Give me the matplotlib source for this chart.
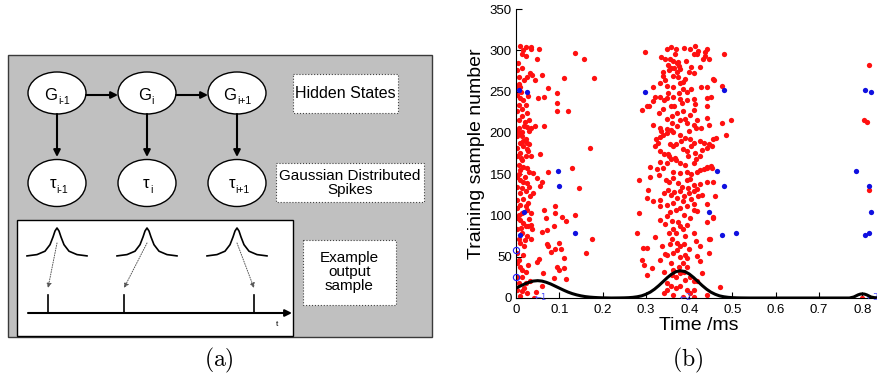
import matplotlib
matplotlib.use('Agg')
import matplotlib.pyplot as plt
from matplotlib.patches import Rectangle, Ellipse

plt.rcParams['font.family'] = ['Liberation Sans', 'DejaVu Sans']

# --------------------------------------------------
# data for panel (b)
# --------------------------------------------------
red_x = [
    # left cluster
    0.009, 0.017, 0.022, 0.034, 0.035, 0.054, 0.049, 0.014, 0.005, 0.022, 0.003, 0.014, 0.008, 0.018,
    0.032, 0.038, 0.060, 0.044, 0.025, 0.003, 0.009, 0.008, 0.136, 0.156, 0.111, 0.181, 0.075, 0.095,
    0.003, 0.009, 0.017, 0.008, 0.022, 0.014, 0.003, 0.025, 0.015, 0.029, 0.008, 0.018, 0.025, 0.034,
    0.003, 0.009, 0.014, 0.051, 0.065, 0.095, 0.095, 0.121, 0.045, 0.065, 0.029,
    0.003, 0.014, 0.017, 0.022, 0.009, 0.026, 0.031, 0.003, 0.017, 0.025, 0.009, 0.003, 0.022, 0.034,
    0.014, 0.006, 0.017, 0.025, 0.009, 0.031, 0.040, 0.055, 0.172, 0.130, 0.075,
    0.003, 0.009, 0.017, 0.025, 0.003, 0.014, 0.031, 0.022, 0.009, 0.003, 0.017, 0.032, 0.040, 0.009,
    0.022, 0.003, 0.025, 0.014, 0.034, 0.049, 0.061, 0.055, 0.146, 0.090, 0.090, 0.106, 0.136, 0.065,
    0.003, 0.009, 0.017, 0.022, 0.003, 0.014, 0.025, 0.008, 0.009, 0.018, 0.003, 0.017, 0.028, 0.034,
    0.038, 0.034, 0.061, 0.072, 0.069, 0.088, 0.115, 0.072, 0.075, 0.080, 0.090, 0.103, 0.100, 0.176,
    0.162,
    0.003, 0.009, 0.014, 0.022, 0.003, 0.015, 0.008, 0.022, 0.032, 0.003, 0.014, 0.025, 0.009, 0.059,
    0.049, 0.052, 0.062, 0.088, 0.095, 0.100, 0.111, 0.115, 0.042, 0.046, 0.111,
    0.012, 0.028, 0.020, 0.006, 0.028, 0.012, 0.006, 0.020, 0.028, 0.006, 0.030, 0.012, 0.020, 0.006,
    0.028, 0.018,
    # middle cluster
    0.299, 0.348, 0.358, 0.370, 0.388, 0.402, 0.414, 0.420, 0.419, 0.440, 0.437, 0.481, 0.336, 0.345,
    0.356, 0.363, 0.371, 0.375, 0.350, 0.357, 0.366, 0.376, 0.410, 0.436, 0.446, 0.431, 0.340, 0.354,
    0.371, 0.379, 0.400, 0.410, 0.425, 0.339, 0.345, 0.363, 0.373, 0.391, 0.454, 0.457, 0.440, 0.333,
    0.348, 0.362, 0.379, 0.386, 0.405, 0.427, 0.475, 0.317,
    0.290, 0.302, 0.308, 0.317, 0.320, 0.333, 0.342, 0.348, 0.363, 0.376, 0.379, 0.383, 0.394, 0.410,
    0.414, 0.440, 0.450, 0.440, 0.410, 0.371, 0.360, 0.357, 0.340, 0.331, 0.348, 0.379, 0.391, 0.394,
    0.419, 0.440, 0.446, 0.410, 0.416, 0.317, 0.333, 0.336, 0.348, 0.357, 0.371, 0.400, 0.475, 0.496,
    0.428,
    0.323, 0.329, 0.333, 0.339, 0.348, 0.363, 0.379, 0.391, 0.402, 0.410, 0.425, 0.434, 0.446, 0.454,
    0.463, 0.485, 0.322, 0.333, 0.342, 0.354, 0.363, 0.370, 0.385, 0.394, 0.405, 0.413, 0.430, 0.440,
    0.452, 0.309, 0.333, 0.348, 0.357, 0.370, 0.379, 0.391, 0.410, 0.416, 0.425, 0.440, 0.450, 0.325,
    0.340, 0.363, 0.379, 0.394, 0.419, 0.425, 0.434, 0.442, 0.452,
    0.283, 0.306, 0.309, 0.331, 0.346, 0.354, 0.363, 0.373, 0.383, 0.394, 0.402, 0.410, 0.425, 0.440,
    0.456, 0.333, 0.342, 0.357, 0.371, 0.379, 0.386, 0.400, 0.410, 0.419, 0.420, 0.333, 0.348, 0.363,
    0.379, 0.396, 0.410, 0.419, 0.440, 0.460, 0.456, 0.283, 0.317, 0.302,
    0.279, 0.293, 0.302, 0.320, 0.333, 0.348, 0.360, 0.363, 0.370, 0.379, 0.385, 0.391, 0.410, 0.416,
    0.425, 0.445, 0.454, 0.354, 0.360, 0.371, 0.379, 0.388, 0.400, 0.337, 0.348, 0.363, 0.379, 0.391,
    0.419, 0.445, 0.448,
    0.290, 0.296, 0.302, 0.314, 0.333, 0.342, 0.357, 0.363, 0.370, 0.376, 0.385, 0.388, 0.394, 0.402,
    0.410, 0.419, 0.348, 0.357, 0.370, 0.379, 0.394, 0.402, 0.410, 0.342, 0.348, 0.363, 0.385, 0.410,
    0.440, 0.471,
    0.352, 0.366, 0.388, 0.405, 0.398, 0.370, 0.355, 0.388, 0.402, 0.345, 0.374, 0.395, 0.412, 0.367,
    0.382, 0.355, 0.398, 0.360, 0.386, 0.402, 0.365, 0.395, 0.352, 0.385, 0.368, 0.392, 0.405, 0.378,
    0.390, 0.360, 0.395, 0.372, 0.356, 0.430, 0.425, 0.440, 0.430, 0.345, 0.405, 0.350,
    # right
    0.816, 0.804, 0.810, 0.816, 0.800,
]
red_y = [
    305, 300, 304, 304, 301, 302, 290, 295, 285, 293, 276, 278, 268, 264,
    272, 270, 270, 264, 268, 257, 255, 259, 297, 289, 266, 266, 254, 248,
    246, 242, 240, 234, 234, 229, 226, 224, 220, 216, 215, 208, 207, 206,
    202, 200, 201, 242, 243, 236, 226, 226, 208, 208, 202,
    196, 196, 190, 192, 188, 188, 186, 182, 184, 180, 176, 172, 172, 172,
    167, 161, 159, 157, 155, 153, 151, 175, 182, 157, 153,
    147, 143, 141, 139, 135, 133, 135, 129, 127, 119, 120, 123, 127, 113,
    111, 109, 107, 103, 103, 145, 141, 136, 133, 112, 103, 98, 101, 107,
    97, 95, 91, 87, 83, 79, 75, 71, 67, 63, 54, 52, 87, 89,
    83, 72, 80, 82, 97, 87, 93, 65, 63, 56, 59, 59, 67, 71,
    54,
    42, 38, 34, 32, 26, 26, 18, 18, 20, 10, 8, 6, 2, 14,
    44, 47, 30, 24, 38, 34, 36, 23, 0, 7, 49,
    250, 245, 213, 206, 178, 170, 150, 146, 115, 100, 96, 85, 70, 46,
    40, 12,
    298, 301, 304, 301, 303, 301, 305, 299, 296, 302, 298, 295, 292, 290,
    290, 287, 285, 286, 282, 279, 279, 281, 295, 293, 289, 289, 274, 276,
    274, 277, 274, 273, 280, 269, 264, 269, 268, 265, 265, 264, 256, 260,
    257, 255, 260, 253, 253, 255, 257, 255,
    228, 233, 233, 238, 244, 244, 240, 242, 244, 248, 241, 236, 240, 241,
    235, 242, 243, 232, 228, 224, 220, 233, 229, 224, 217, 216, 217, 212,
    216, 218, 210, 209, 206, 209, 206, 202, 205, 204, 208, 202, 212, 215,
    206,
    192, 188, 195, 197, 200, 201, 198, 194, 192, 188, 190, 188, 187, 192,
    194, 198, 184, 178, 174, 172, 184, 187, 180, 178, 184, 176, 179, 182,
    184, 159, 165, 163, 168, 167, 163, 161, 163, 168, 172, 159, 160, 156,
    157, 153, 151, 152, 152, 155, 156, 157, 157,
    143, 131, 147, 149, 143, 140, 145, 139, 135, 143, 144, 137, 138, 140,
    141, 119, 127, 125, 121, 129, 117, 127, 129, 132, 123, 111, 113, 115,
    109, 111, 114, 105, 114, 123, 98, 103, 117, 121,
    79, 61, 61, 74, 95, 99, 93, 83, 79, 87, 83, 75, 79, 69,
    63, 71, 97, 79, 71, 67, 63, 65, 59, 63, 52, 54, 50, 52,
    51, 54, 72,
    46, 40, 28, 36, 46, 32, 42, 34, 26, 38, 42, 32, 38, 26,
    20, 20, 18, 14, 12, 15, 10, 6, 10, 6, 10, 4, 1, 1,
    4, 13,
    131, 128, 124, 120, 133, 106, 104, 101, 97, 90, 92, 88, 106, 170,
    190, 187, 172, 212, 226, 222, 232, 250, 248, 262, 296, 287, 280, 30,
    22, 28, 48, 58, 66, 30, 45, 92, 125, 53, 150, 175,
    282, 216, 213, 131, 0,
]

blue_x = [0.008, 0.025, 0.098, 0.100, 0.018, 0.009, 0.136,
          0.299, 0.481, 0.465, 0.480, 0.446, 0.476, 0.507,
          0.806, 0.821, 0.785, 0.816, 0.821, 0.816, 0.806]
blue_y = [252, 250, 154, 136, 104, 76, 79,
          250, 252, 154, 136, 104, 76, 79,
          252, 250, 154, 136, 104, 79, 76]

open_x = [0.0, 0.0]
open_y = [58, 25]

# fitted mixture curve
curve_x = [0.00, 0.01, 0.02, 0.03, 0.04, 0.05, 0.06, 0.07, 0.08, 0.09, 0.10, 0.11, 0.12, 0.13,
           0.14, 0.15, 0.16, 0.17, 0.18, 0.19, 0.20, 0.21, 0.22, 0.24, 0.25, 0.26, 0.27, 0.28,
           0.29, 0.30, 0.31, 0.32, 0.33, 0.34, 0.35, 0.36, 0.37, 0.38, 0.39, 0.40, 0.41, 0.42,
           0.43, 0.44, 0.45, 0.46, 0.47, 0.48, 0.49, 0.50, 0.51, 0.52, 0.54, 0.60, 0.70, 0.77,
           0.78, 0.785, 0.79, 0.795, 0.80, 0.805, 0.81, 0.815, 0.82, 0.83, 0.84]
curve_y = [12.0, 14.5, 17.0, 19.0, 20.5, 21.0, 20.5, 19.0, 17.0, 14.5, 12.0, 9.5, 7.2, 5.3,
           3.8, 2.6, 1.7, 1.1, 0.7, 0.4, 0.2, 0.1, 0.0, 0.1, 0.2, 0.4, 0.8, 1.5,
           2.6, 4.5, 7.1, 10.7, 15.1, 20.0, 24.9, 29.1, 32.0, 33.0, 32.0, 29.1, 24.9, 20.0,
           15.1, 10.7, 7.1, 4.5, 2.6, 1.5, 0.8, 0.4, 0.2, 0.1, 0.0, 0.0, 0.0, 0.0,
           1.2, 2.5, 3.8, 4.7, 5.0, 4.7, 3.8, 2.5, 1.2, 0.2, 0.0]

mark_x = [0.058, 0.393, 0.823]
mark_txt = ['\u21901', '\u21902', '\u21903']

x_ticks = [0, 0.1, 0.2, 0.3, 0.4, 0.5, 0.6, 0.7, 0.8]
x_ticklabels = ['0', '0.1', '0.2', '0.3', '0.4', '0.5', '0.6', '0.7', '0.8']
y_ticks = [0, 50, 100, 150, 200, 250, 300, 350]

# --------------------------------------------------
# diagram for panel (a)
# --------------------------------------------------
node_x = [57, 147, 237]
subs = ['i-1', 'i', 'i+1']
sub_off = [0.5, 4.0, -0.5]
spike_x = [48, 124, 254]
peak_dx = [-30, -20, -12, -7, -4, -2, 0, 2, 4, 7, 12, 20, 30]
peak_h = [1.1, 2.4, 5.8, 12.3, 20, 26, 29, 26, 20, 12.3, 5.8, 2.4, 1.1]

fig = plt.figure(figsize=(8.78, 3.79), dpi=100)

ax_d = fig.add_axes([0, 0, 0.5, 1])
ax_d.set_xlim(0, 439)
ax_d.set_ylim(379, 0)
ax_d.axis('off')

ax_d.add_patch(Rectangle((8, 55), 424, 282, fc='#c0c0c0', ec='#3a3a3a', lw=1.0))

for i, cx in enumerate(node_x):
    ax_d.add_patch(Ellipse((cx, 93), 58, 42, fc='white', ec='black', lw=1.0))
    ax_d.text(cx + sub_off[i], 100, 'G', ha='right', va='baseline', fontsize=12)
    ax_d.text(cx + sub_off[i] + 0.5, 104, subs[i], ha='left', va='baseline', fontsize=7.5)
    ax_d.add_patch(Ellipse((cx, 183), 58, 47, fc='white', ec='black', lw=1.0))
    ax_d.text(cx + sub_off[i] - 1.5, 188, '\u03c4', ha='right', va='baseline', fontsize=12)
    ax_d.text(cx + sub_off[i] - 1.0, 193, subs[i], ha='left', va='baseline', fontsize=7.5)
    ax_d.annotate('', xy=(cx, 157), xytext=(cx, 114),
                  arrowprops=dict(arrowstyle='-|>', color='black', lw=1.5,
                                  mutation_scale=10, shrinkA=0, shrinkB=0))

for a, b in [(86, 118), (176, 208)]:
    ax_d.annotate('', xy=(b, 95), xytext=(a, 95),
                  arrowprops=dict(arrowstyle='-|>', color='black', lw=1.5,
                                  mutation_scale=10, shrinkA=0, shrinkB=0))

box_kw = dict(fc='white', ec='#444444', lw=0.8, ls=':')
ax_d.add_patch(Rectangle((293, 74), 105, 39, **box_kw))
ax_d.text(345.5, 94, 'Hidden States', ha='center', va='center', fontsize=11.5)
ax_d.add_patch(Rectangle((276, 163), 148, 39, **box_kw))
ax_d.text(350, 183, 'Gaussian Distributed\nSpikes', ha='center', va='center',
          fontsize=11, linespacing=1.0)
ax_d.add_patch(Rectangle((303, 240), 93, 65, **box_kw))
ax_d.text(349.5, 272, 'Example\noutput\nsample', ha='center', va='center',
          fontsize=11, linespacing=1.0)

ax_d.add_patch(Rectangle((17, 220), 276, 116, fc='white', ec='black', lw=1.0))
for cx, sx in zip(node_x, spike_x):
    ax_d.plot([cx + d for d in peak_dx], [257 - h for h in peak_h], color='black', lw=1.2)
    ax_d.annotate('', xy=(sx, 288), xytext=(cx, 243),
                  arrowprops=dict(arrowstyle='-|>', color='#555555', lw=0.7, ls=(0, (1, 1.5)),
                                  mutation_scale=7, shrinkA=0, shrinkB=0))
    ax_d.plot([sx, sx], [295, 313], color='black', lw=1.2)
ax_d.annotate('', xy=(292, 313), xytext=(28, 313),
              arrowprops=dict(arrowstyle='-|>', color='black', lw=1.5,
                              mutation_scale=10, shrinkA=0, shrinkB=0))
ax_d.text(277, 325, 't', ha='center', va='center', fontsize=6)

ax_d.text(218.5, 360, r'$\mathrm{(a)}$', ha='center', va='center', fontsize=17,
          math_fontfamily='cm')

# --------------------------------------------------
# raster plot, panel (b)
# --------------------------------------------------
ax = fig.add_axes([516 / 878, 81 / 379, 0.845 * 433 / 878, 289 / 379])
ax.plot(red_x, red_y, 'o', color='#ff1010', ms=3.8, mew=0, zorder=2)
ax.plot(blue_x, blue_y, 'o', color='#1010e0', ms=3.8, mew=0, zorder=3)
ax.plot(open_x, open_y, 'o', mfc='none', mec='#2020ff', ms=4.5, mew=0.8, zorder=3, clip_on=False)
ax.plot(curve_x, curve_y, color='black', lw=2.2, zorder=4)
for mx, mt in zip(mark_x, mark_txt):
    ax.text(mx, 0, mt, color='#4a4aff', fontsize=6, ha='center', va='center',
            zorder=3, family=['DejaVu Sans'])

ax.set_xlim(0, 0.845)
ax.set_ylim(0, 350)
ax.set_xticks(x_ticks)
ax.set_xticklabels(x_ticklabels)
ax.set_yticks(y_ticks)
ax.spines['top'].set_visible(False)
ax.spines['right'].set_visible(False)
ax.tick_params(direction='in', length=4, labelsize=9.5)
ax.tick_params(axis='y', pad=3)
ax.tick_params(axis='x', pad=4)
ax.set_xlabel('Time /ms', fontsize=14, labelpad=1)
ax.set_ylabel('Training sample number', fontsize=14, labelpad=3)

fig.text(688 / 878, 1 - 360 / 379, r'$\mathrm{(b)}$', ha='center', va='center', fontsize=17,
         math_fontfamily='cm')

fig.savefig('out.png', dpi=100)
